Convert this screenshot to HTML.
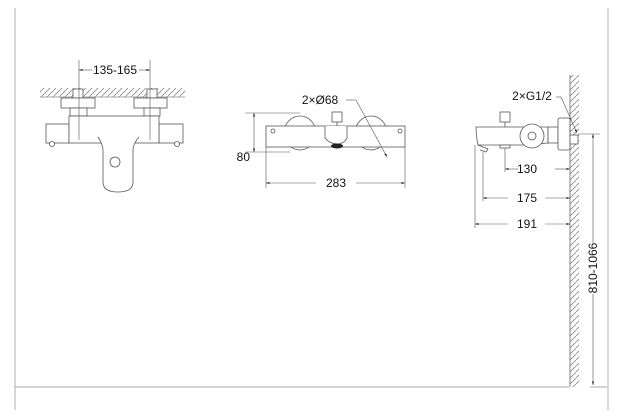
<!DOCTYPE html>
<html><head><meta charset="utf-8"><style>
html,body{margin:0;padding:0;background:#fff}
svg{display:block}
text{font-family:"Liberation Sans",sans-serif;font-size:12px;fill:#111}
</style></head><body>
<svg width="620" height="420" viewBox="0 0 620 420" xmlns="http://www.w3.org/2000/svg">
<defs>
<pattern id="h" width="6" height="6" patternUnits="userSpaceOnUse">
<path d="M0,6 L6,0" stroke="#888" stroke-width="0.8"/>
</pattern>
<marker id="a" viewBox="0 0 10 10" refX="10" refY="5" markerWidth="6" markerHeight="6" orient="auto-start-reverse"><path d="M0,2 L10,5 L0,8z" fill="#222"/></marker>
</defs>
<g stroke="#ccc" stroke-width="1.5" fill="none">
<line x1="15" y1="8" x2="15" y2="410"/>
<line x1="608" y1="8" x2="608" y2="410"/>
</g>
<line x1="15" y1="387" x2="569" y2="387" stroke="#aaa" stroke-width="1"/>
<line x1="590" y1="387" x2="607" y2="387" stroke="#aaa" stroke-width="1"/>

<!-- LEFT VIEW -->
<rect x="40" y="88" width="145" height="9" fill="url(#h)"/>
<line x1="40" y1="97" x2="185" y2="97" stroke="#888" stroke-width="0.8"/>
<g stroke="#555" stroke-width="0.8" fill="#fff">
<rect x="73" y="89" width="10" height="9"/>
<rect x="147" y="89" width="10" height="9"/>
<rect x="61" y="98" width="34" height="10"/>
<rect x="134" y="98" width="33" height="10"/>
<rect x="70" y="108" width="17" height="8"/>
<rect x="144" y="108" width="16" height="8"/>
<rect x="46" y="124" width="23" height="19"/>
<rect x="159" y="124" width="24" height="19"/>
<rect x="69" y="116" width="90" height="27"/>
<circle cx="52" cy="144" r="2.5"/>
<circle cx="177" cy="144" r="2.5"/>
<path d="M98,137 Q103,145 103,150 L103,182 Q103,192 118,192 Q133,192 133,182 L133,150 Q133,144 139,137"/>
<circle cx="115" cy="162" r="5"/>
</g>
<g stroke="#555" stroke-width="0.6">
<line x1="79" y1="60" x2="79" y2="140"/><line x1="150" y1="60" x2="150" y2="140"/>
<line x1="79" y1="70" x2="92" y2="70" marker-start="url(#a)"/>
<line x1="139" y1="70" x2="150" y2="70" marker-end="url(#a)"/>
</g>
<text x="115" y="74" text-anchor="middle">135-165</text>

<!-- MIDDLE VIEW -->
<g stroke="#555" stroke-width="0.8" fill="#fff">
<ellipse cx="300" cy="133" rx="16" ry="17"/>
<ellipse cx="371" cy="133" rx="16" ry="17"/>
<rect x="266" y="126" width="139" height="21"/>
<rect x="332" y="112" width="10" height="10"/>
<line x1="337" y1="122" x2="337" y2="126"/>
<path d="M325,126 L325,138 Q330,144 337,144 Q344,144 347,138 L347,126"/>
<circle cx="273" cy="131" r="2"/>
<circle cx="400" cy="131" r="2"/>
</g>
<ellipse cx="337" cy="146" rx="6" ry="2.5" fill="#222"/>
<g stroke="#555" stroke-width="0.6" fill="none">
<line x1="245" y1="113" x2="300" y2="113"/><line x1="245" y1="152" x2="290" y2="152"/>
<line x1="254" y1="113" x2="254" y2="152" marker-start="url(#a)" marker-end="url(#a)"/>
<line x1="266" y1="147" x2="266" y2="188"/><line x1="405" y1="147" x2="405" y2="188"/>
<line x1="266" y1="183" x2="316" y2="183" marker-start="url(#a)"/>
<line x1="356" y1="183" x2="405" y2="183" marker-end="url(#a)"/>
<line x1="346" y1="100" x2="356" y2="100"/>
<line x1="356" y1="100" x2="387" y2="157" marker-end="url(#a)"/>
</g>
<text x="250" y="161" text-anchor="end">80</text>
<text x="336" y="187" text-anchor="middle">283</text>
<text x="320" y="104" text-anchor="middle">2×Ø68</text>

<!-- RIGHT VIEW -->
<rect x="570" y="75" width="9" height="312" fill="url(#h)"/>
<line x1="570" y1="75" x2="570" y2="387" stroke="#666" stroke-width="0.8"/>
<g stroke="#555" stroke-width="0.8" fill="#fff">
<rect x="500" y="112" width="10" height="10"/>
<line x1="505" y1="122" x2="505" y2="127"/>
<path d="M476,127 L548,127 L548,143 L523,145 L478,145 Q476,136 476,127z"/>
<rect x="548" y="127" width="10" height="16"/>
<rect x="558" y="118" width="12" height="32" rx="2"/>
<rect x="570" y="135" width="8" height="9"/>
<circle cx="532" cy="136" r="12"/>
<circle cx="532" cy="136" r="4"/>
<path d="M478,145 L488,149 L486,152 L480,150"/>
<rect x="500" y="145" width="10" height="3"/>
</g>
<g stroke="#555" stroke-width="0.6" fill="none">
<line x1="505" y1="148" x2="505" y2="172"/>
<line x1="483" y1="152" x2="483" y2="201"/>
<line x1="475" y1="145" x2="475" y2="228"/>
<line x1="505" y1="169" x2="518" y2="169" marker-start="url(#a)"/>
<line x1="555" y1="169" x2="570" y2="169" marker-end="url(#a)"/>
<line x1="483" y1="198" x2="508" y2="198" marker-start="url(#a)"/>
<line x1="545" y1="198" x2="570" y2="198" marker-end="url(#a)"/>
<line x1="475" y1="224" x2="508" y2="224" marker-start="url(#a)"/>
<line x1="545" y1="224" x2="570" y2="224" marker-end="url(#a)"/>
<line x1="556" y1="97" x2="561" y2="97"/>
<line x1="561" y1="97" x2="577" y2="133" marker-end="url(#a)"/>
<line x1="578" y1="134" x2="600" y2="134"/>
<line x1="593" y1="134" x2="593" y2="243" marker-start="url(#a)"/>
<line x1="593" y1="294" x2="593" y2="385" marker-end="url(#a)"/>
</g>
<text x="527" y="173" text-anchor="middle">130</text>
<text x="527" y="202" text-anchor="middle">175</text>
<text x="527" y="228" text-anchor="middle">191</text>
<text x="532" y="100" text-anchor="middle">2×G1/2</text>
<text x="597" y="268" text-anchor="middle" transform="rotate(-90 597 268)">810-1066</text>
</svg>
</body></html>
